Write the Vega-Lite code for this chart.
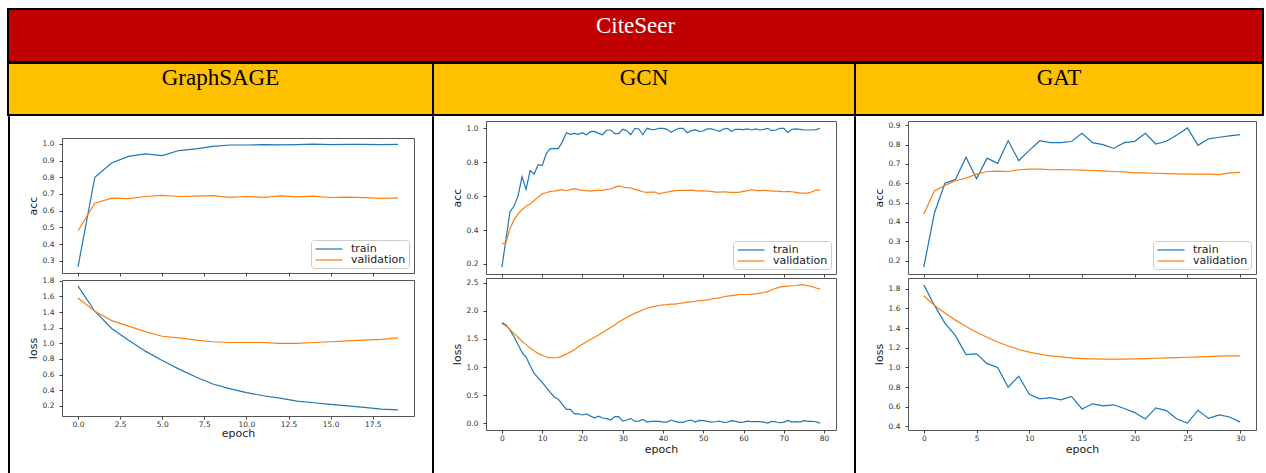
{
  "$schema": "https://vega.github.io/schema/vega-lite/v6.json",
  "background": "white",
  "padding": {"left": 7, "top": 8, "right": 0, "bottom": 0},
  "spacing": -4,
  "resolve": {"scale": {"color": "independent"}},
  "config": {
    "font": "DejaVu Sans",
    "view": {"stroke": "#555555", "strokeWidth": 1},
    "axis": {"domain": false, "grid": false, "ticks": true, "tickColor": "#444444", "tickSize": 3, "labelFont": "DejaVu Sans", "labelFontSize": 7.5, "labelColor": "#333333", "titleFont": "DejaVu Sans", "titleFontSize": 11, "titleFontWeight": "normal", "titleColor": "#222222"},
    "axisX": {"labelPadding": 1, "titlePadding": 2},
    "axisY": {"labelPadding": 5, "titlePadding": 4},
    "legend": {"orient": "bottom-right", "offset": 5, "symbolType": "M-2.7,0H2.7", "symbolSize": 100, "symbolStrokeWidth": 1.5, "labelFont": "DejaVu Sans", "labelFontSize": 11, "labelColor": "#222222", "padding": 3, "rowPadding": 0, "strokeColor": "#cccccc", "fillColor": "white", "cornerRadius": 3, "symbolOffset": 9, "labelOffset": 16},
    "line": {"strokeWidth": 1.2}
  },
  "datasets": {
    "sage_acc": [
      {"epoch":0,"train":0.264,"validation":0.48},{"epoch":1,"train":0.80,"validation":0.645},{"epoch":2,"train":0.885,"validation":0.675},{"epoch":3,"train":0.925,"validation":0.672},{"epoch":4,"train":0.94,"validation":0.685},{"epoch":5,"train":0.93,"validation":0.692},{"epoch":6,"train":0.96,"validation":0.685},{"epoch":7,"train":0.97,"validation":0.687},{"epoch":8,"train":0.985,"validation":0.69},{"epoch":9,"train":0.993,"validation":0.68},{"epoch":10,"train":0.993,"validation":0.685},{"epoch":11,"train":0.995,"validation":0.68},{"epoch":12,"train":0.994,"validation":0.689},{"epoch":13,"train":0.995,"validation":0.683},{"epoch":14,"train":0.998,"validation":0.687},{"epoch":15,"train":0.995,"validation":0.679},{"epoch":16,"train":0.997,"validation":0.681},{"epoch":17,"train":0.997,"validation":0.678},{"epoch":18,"train":0.995,"validation":0.674},{"epoch":19,"train":0.997,"validation":0.677}
    ],
    "sage_loss": [
      {"epoch":0,"train":1.73,"validation":1.58},{"epoch":1,"train":1.41,"validation":1.41},{"epoch":2,"train":1.19,"validation":1.29},{"epoch":3,"train":1.04,"validation":1.22},{"epoch":4,"train":0.90,"validation":1.15},{"epoch":5,"train":0.78,"validation":1.09},{"epoch":6,"train":0.67,"validation":1.07},{"epoch":7,"train":0.57,"validation":1.04},{"epoch":8,"train":0.48,"validation":1.02},{"epoch":9,"train":0.42,"validation":1.01},{"epoch":10,"train":0.37,"validation":1.01},{"epoch":11,"train":0.33,"validation":1.01},{"epoch":12,"train":0.30,"validation":1.0},{"epoch":13,"train":0.26,"validation":1.0},{"epoch":14,"train":0.24,"validation":1.01},{"epoch":15,"train":0.22,"validation":1.02},{"epoch":16,"train":0.20,"validation":1.03},{"epoch":17,"train":0.18,"validation":1.04},{"epoch":18,"train":0.16,"validation":1.05},{"epoch":19,"train":0.15,"validation":1.07}
    ],
    "gcn_acc": [
      {"epoch":0,"train":0.182,"validation":0.318},{"epoch":1,"train":0.343,"validation":0.326},{"epoch":2,"train":0.508,"validation":0.41},{"epoch":3,"train":0.54,"validation":0.46},{"epoch":4,"train":0.60,"validation":0.495},{"epoch":5,"train":0.715,"validation":0.52},{"epoch":6,"train":0.64,"validation":0.54},{"epoch":7,"train":0.75,"validation":0.553},{"epoch":8,"train":0.73,"validation":0.574},{"epoch":9,"train":0.785,"validation":0.594},
      {"epoch":10,"train":0.78,"validation":0.614},{"epoch":11,"train":0.85,"validation":0.62},{"epoch":12,"train":0.88,"validation":0.628},{"epoch":13,"train":0.88,"validation":0.63},{"epoch":14,"train":0.88,"validation":0.634},{"epoch":15,"train":0.92,"validation":0.638},{"epoch":16,"train":0.974,"validation":0.632},{"epoch":17,"train":0.964,"validation":0.638},{"epoch":18,"train":0.97,"validation":0.644},{"epoch":19,"train":0.964,"validation":0.638},
      {"epoch":20,"train":0.974,"validation":0.634},{"epoch":21,"train":0.962,"validation":0.632},{"epoch":22,"train":0.98,"validation":0.63},{"epoch":23,"train":0.982,"validation":0.632},{"epoch":24,"train":0.97,"validation":0.634},{"epoch":25,"train":0.962,"validation":0.634},{"epoch":26,"train":0.99,"validation":0.64},{"epoch":27,"train":0.99,"validation":0.642},{"epoch":28,"train":0.968,"validation":0.652},{"epoch":29,"train":0.968,"validation":0.66},
      {"epoch":30,"train":0.994,"validation":0.654},{"epoch":31,"train":0.986,"validation":0.65},{"epoch":32,"train":0.962,"validation":0.648},{"epoch":33,"train":1.0,"validation":0.64},{"epoch":34,"train":0.996,"validation":0.634},{"epoch":35,"train":0.962,"validation":0.626},{"epoch":36,"train":1.0,"validation":0.622},{"epoch":37,"train":0.994,"validation":0.624},{"epoch":38,"train":0.992,"validation":0.624},{"epoch":39,"train":1.0,"validation":0.614},
      {"epoch":40,"train":1.0,"validation":0.62},{"epoch":41,"train":0.994,"validation":0.624},{"epoch":42,"train":0.976,"validation":0.628},{"epoch":43,"train":0.99,"validation":0.632},{"epoch":44,"train":1.0,"validation":0.634},{"epoch":45,"train":1.0,"validation":0.634},{"epoch":46,"train":0.974,"validation":0.634},{"epoch":47,"train":0.986,"validation":0.636},{"epoch":48,"train":0.99,"validation":0.632},{"epoch":49,"train":0.982,"validation":0.63},
      {"epoch":50,"train":0.984,"validation":0.632},{"epoch":51,"train":0.996,"validation":0.63},{"epoch":52,"train":0.996,"validation":0.628},{"epoch":53,"train":0.99,"validation":0.624},{"epoch":54,"train":0.982,"validation":0.624},{"epoch":55,"train":0.996,"validation":0.626},{"epoch":56,"train":1.0,"validation":0.624},{"epoch":57,"train":0.982,"validation":0.622},{"epoch":58,"train":0.994,"validation":0.622},{"epoch":59,"train":0.994,"validation":0.624},
      {"epoch":60,"train":0.992,"validation":0.628},{"epoch":61,"train":0.996,"validation":0.632},{"epoch":62,"train":0.99,"validation":0.638},{"epoch":63,"train":0.996,"validation":0.634},{"epoch":64,"train":0.99,"validation":0.632},{"epoch":65,"train":0.994,"validation":0.634},{"epoch":66,"train":1.0,"validation":0.632},{"epoch":67,"train":0.986,"validation":0.63},{"epoch":68,"train":0.99,"validation":0.63},{"epoch":69,"train":1.0,"validation":0.628},
      {"epoch":70,"train":1.0,"validation":0.626},{"epoch":71,"train":0.976,"validation":0.628},{"epoch":72,"train":0.994,"validation":0.626},{"epoch":73,"train":0.996,"validation":0.622},{"epoch":74,"train":0.994,"validation":0.618},{"epoch":75,"train":0.99,"validation":0.618},{"epoch":76,"train":0.99,"validation":0.618},{"epoch":77,"train":0.99,"validation":0.626},{"epoch":78,"train":0.992,"validation":0.636},{"epoch":79,"train":1.0,"validation":0.636}
    ],
    "gcn_loss": [
      {"epoch":0,"train":1.79,"validation":1.77},{"epoch":1,"train":1.75,"validation":1.73},{"epoch":2,"train":1.66,"validation":1.67},{"epoch":3,"train":1.54,"validation":1.60},{"epoch":4,"train":1.40,"validation":1.53},{"epoch":5,"train":1.26,"validation":1.46},{"epoch":6,"train":1.18,"validation":1.40},{"epoch":7,"train":1.03,"validation":1.34},{"epoch":8,"train":0.89,"validation":1.29},{"epoch":9,"train":0.81,"validation":1.24},
      {"epoch":10,"train":0.73,"validation":1.21},{"epoch":11,"train":0.64,"validation":1.18},{"epoch":12,"train":0.55,"validation":1.17},{"epoch":13,"train":0.47,"validation":1.166},{"epoch":14,"train":0.43,"validation":1.17},{"epoch":15,"train":0.34,"validation":1.20},{"epoch":16,"train":0.25,"validation":1.23},{"epoch":17,"train":0.25,"validation":1.27},{"epoch":18,"train":0.17,"validation":1.31},{"epoch":19,"train":0.17,"validation":1.36},
      {"epoch":20,"train":0.15,"validation":1.405},{"epoch":21,"train":0.17,"validation":1.45},{"epoch":22,"train":0.13,"validation":1.49},{"epoch":23,"train":0.10,"validation":1.53},{"epoch":24,"train":0.13,"validation":1.57},{"epoch":25,"train":0.096,"validation":1.615},{"epoch":26,"train":0.084,"validation":1.66},{"epoch":27,"train":0.06,"validation":1.705},{"epoch":28,"train":0.12,"validation":1.75},{"epoch":29,"train":0.12,"validation":1.80},
      {"epoch":30,"train":0.042,"validation":1.84},{"epoch":31,"train":0.06,"validation":1.88},{"epoch":32,"train":0.09,"validation":1.92},{"epoch":33,"train":0.036,"validation":1.955},{"epoch":34,"train":0.042,"validation":1.985},{"epoch":35,"train":0.072,"validation":2.02},{"epoch":36,"train":0.024,"validation":2.045},{"epoch":37,"train":0.036,"validation":2.065},{"epoch":38,"train":0.036,"validation":2.08},{"epoch":39,"train":0.036,"validation":2.095},
      {"epoch":40,"train":0.024,"validation":2.105},{"epoch":41,"train":0.024,"validation":2.11},{"epoch":42,"train":0.06,"validation":2.12},{"epoch":43,"train":0.036,"validation":2.12},{"epoch":44,"train":0.018,"validation":2.13},{"epoch":45,"train":0.018,"validation":2.14},{"epoch":46,"train":0.048,"validation":2.155},{"epoch":47,"train":0.06,"validation":2.16},{"epoch":48,"train":0.024,"validation":2.17},{"epoch":49,"train":0.054,"validation":2.18},
      {"epoch":50,"train":0.048,"validation":2.185},{"epoch":51,"train":0.036,"validation":2.195},{"epoch":52,"train":0.024,"validation":2.21},{"epoch":53,"train":0.03,"validation":2.22},{"epoch":54,"train":0.042,"validation":2.23},{"epoch":55,"train":0.018,"validation":2.25},{"epoch":56,"train":0.024,"validation":2.26},{"epoch":57,"train":0.048,"validation":2.27},{"epoch":58,"train":0.036,"validation":2.28},{"epoch":59,"train":0.018,"validation":2.29},
      {"epoch":60,"train":0.024,"validation":2.29},{"epoch":61,"train":0.042,"validation":2.29},{"epoch":62,"train":0.03,"validation":2.295},{"epoch":63,"train":0.03,"validation":2.30},{"epoch":64,"train":0.03,"validation":2.315},{"epoch":65,"train":0.024,"validation":2.325},{"epoch":66,"train":0.006,"validation":2.34},{"epoch":67,"train":0.036,"validation":2.375},{"epoch":68,"train":0.03,"validation":2.40},{"epoch":69,"train":0.012,"validation":2.42},
      {"epoch":70,"train":0.024,"validation":2.435},{"epoch":71,"train":0.054,"validation":2.44},{"epoch":72,"train":0.024,"validation":2.445},{"epoch":73,"train":0.03,"validation":2.45},{"epoch":74,"train":0.024,"validation":2.46},{"epoch":75,"train":0.048,"validation":2.46},{"epoch":76,"train":0.036,"validation":2.445},{"epoch":77,"train":0.036,"validation":2.43},{"epoch":78,"train":0.03,"validation":2.405},{"epoch":79,"train":0.006,"validation":2.385}
    ],
    "gat_acc": [
      {"epoch":0,"train":0.167,"validation":0.441},{"epoch":1,"train":0.445,"validation":0.56},{"epoch":2,"train":0.60,"validation":0.589},{"epoch":3,"train":0.62,"validation":0.613},{"epoch":4,"train":0.735,"validation":0.627},{"epoch":5,"train":0.624,"validation":0.647},{"epoch":6,"train":0.73,"validation":0.661},{"epoch":7,"train":0.703,"validation":0.663},{"epoch":8,"train":0.82,"validation":0.661},{"epoch":9,"train":0.717,"validation":0.67},
      {"epoch":10,"train":0.77,"validation":0.673},{"epoch":11,"train":0.82,"validation":0.673},{"epoch":12,"train":0.81,"validation":0.67},{"epoch":13,"train":0.81,"validation":0.671},{"epoch":14,"train":0.816,"validation":0.67},{"epoch":15,"train":0.858,"validation":0.668},{"epoch":16,"train":0.81,"validation":0.666},{"epoch":17,"train":0.80,"validation":0.664},{"epoch":18,"train":0.78,"validation":0.661},{"epoch":19,"train":0.81,"validation":0.659},
      {"epoch":20,"train":0.817,"validation":0.654},{"epoch":21,"train":0.858,"validation":0.654},{"epoch":22,"train":0.803,"validation":0.652},{"epoch":23,"train":0.817,"validation":0.65},{"epoch":24,"train":0.85,"validation":0.649},{"epoch":25,"train":0.886,"validation":0.647},{"epoch":26,"train":0.796,"validation":0.647},{"epoch":27,"train":0.83,"validation":0.647},{"epoch":28,"train":0.838,"validation":0.645},{"epoch":29,"train":0.845,"validation":0.654},{"epoch":30,"train":0.852,"validation":0.656}
    ],
    "gat_loss": [
      {"epoch":0,"train":1.838,"validation":1.725},{"epoch":1,"train":1.632,"validation":1.632},{"epoch":2,"train":1.45,"validation":1.553},{"epoch":3,"train":1.323,"validation":1.48},{"epoch":4,"train":1.13,"validation":1.416},{"epoch":5,"train":1.138,"validation":1.357},{"epoch":6,"train":1.038,"validation":1.306},{"epoch":7,"train":1.0,"validation":1.258},{"epoch":8,"train":0.798,"validation":1.217},{"epoch":9,"train":0.911,"validation":1.182},
      {"epoch":10,"train":0.726,"validation":1.155},{"epoch":11,"train":0.681,"validation":1.134},{"epoch":12,"train":0.692,"validation":1.117},{"epoch":13,"train":0.671,"validation":1.107},{"epoch":14,"train":0.705,"validation":1.096},{"epoch":15,"train":0.578,"validation":1.09},{"epoch":16,"train":0.63,"validation":1.086},{"epoch":17,"train":0.609,"validation":1.083},{"epoch":18,"train":0.62,"validation":1.083},{"epoch":19,"train":0.582,"validation":1.083},
      {"epoch":20,"train":0.541,"validation":1.086},{"epoch":21,"train":0.475,"validation":1.09},{"epoch":22,"train":0.589,"validation":1.093},{"epoch":23,"train":0.561,"validation":1.096},{"epoch":24,"train":0.475,"validation":1.1},{"epoch":25,"train":0.434,"validation":1.103},{"epoch":26,"train":0.565,"validation":1.107},{"epoch":27,"train":0.482,"validation":1.11},{"epoch":28,"train":0.517,"validation":1.114},{"epoch":29,"train":0.496,"validation":1.117},{"epoch":30,"train":0.444,"validation":1.117}
    ]
  },
  "vconcat": [
    {
      "width": 1255, "height": 53,
      "data": {"values": [{"label": "CiteSeer"}]},
      "view": {"fill": "#c00000", "stroke": "black", "strokeWidth": 2},
      "mark": {"type": "text", "font": "Liberation Serif", "fontSize": 23, "color": "white", "baseline": "alphabetic", "dy": -3},
      "encoding": {"text": {"field": "label"}}
    },
    {
      "hconcat": [
        {"width": 425, "height": 52, "data": {"values": [{"label": "GraphSAGE"}]}, "view": {"fill": "#ffc000", "stroke": "black", "strokeWidth": 2}, "mark": {"type": "text", "font": "Liberation Serif", "fontSize": 23, "color": "black", "baseline": "alphabetic", "dy": -4}, "encoding": {"text": {"field": "label"}}},
        {"width": 422, "height": 52, "data": {"values": [{"label": "GCN"}]}, "view": {"fill": "#ffc000", "stroke": "black", "strokeWidth": 2}, "mark": {"type": "text", "font": "Liberation Serif", "fontSize": 23, "color": "black", "baseline": "alphabetic", "dy": -4}, "encoding": {"text": {"field": "label"}}},
        {"width": 408, "height": 52, "data": {"values": [{"label": "GAT"}]}, "view": {"fill": "#ffc000", "stroke": "black", "strokeWidth": 2}, "mark": {"type": "text", "font": "Liberation Serif", "fontSize": 23, "color": "black", "baseline": "alphabetic", "dy": -4}, "encoding": {"text": {"field": "label"}}}
      ],
      "spacing": 0,
      "bounds": "flush"
    },
    {
      "hconcat": [
        {"width": 1, "height": 357, "data": {"values": []}, "mark": {"type": "point"}, "view": {"fill": "black", "stroke": "black", "strokeWidth": 1}},
        {
          "vconcat": [
            {"width": 1, "height": 15, "data": {"values": []}, "mark": {"type": "point"}, "view": {"stroke": null}},
            {
              "width": 352, "height": 135,
              "data": {"name": "sage_acc"},
              "transform": [{"fold": ["train", "validation"], "as": ["split", "value"]}],
              "mark": {"type": "line"},
              "encoding": {
                "x": {"field": "epoch", "type": "quantitative", "scale": {"domain": [-0.95, 19.95], "nice": false, "zero": false}, "axis": {"values": [0, 2.5, 5, 7.5, 10, 12.5, 15, 17.5], "labels": false, "title": null}},
                "y": {"field": "value", "type": "quantitative", "scale": {"domain": [0.227, 1.035], "nice": false, "zero": false}, "axis": {"values": [0.3, 0.4, 0.5, 0.6, 0.7, 0.8, 0.9, 1.0], "format": ".1f", "title": "acc"}},
                "color": {"field": "split", "type": "nominal", "scale": {"domain": ["train", "validation"], "range": ["#1f77b4", "#ff7f0e"]}, "legend": {"title": null}}
              }
            },
            {
              "width": 352, "height": 136,
              "data": {"name": "sage_loss"},
              "transform": [{"fold": ["train", "validation"], "as": ["split", "value"]}],
              "mark": {"type": "line"},
              "encoding": {
                "x": {"field": "epoch", "type": "quantitative", "scale": {"domain": [-0.95, 19.95], "nice": false, "zero": false}, "axis": {"values": [0, 2.5, 5, 7.5, 10, 12.5, 15, 17.5], "format": ".1f", "title": "epoch", "titlePadding": 0}},
                "y": {"field": "value", "type": "quantitative", "scale": {"domain": [0.071, 1.809], "nice": false, "zero": false}, "axis": {"values": [0.2, 0.4, 0.6, 0.8, 1.0, 1.2, 1.4, 1.6, 1.8], "format": ".1f", "title": "loss"}},
                "color": {"field": "split", "type": "nominal", "scale": {"domain": ["train", "validation"], "range": ["#1f77b4", "#ff7f0e"]}, "legend": null}
              }
            }
          ],
          "spacing": 7,
          "bounds": "flush",
          "resolve": {"scale": {"color": "independent"}}
        },
        {"width": 1, "height": 357, "data": {"values": []}, "mark": {"type": "point"}, "view": {"fill": "black", "stroke": "black", "strokeWidth": 1}},
        {
          "vconcat": [
            {"width": 1, "height": 0.001, "data": {"values": []}, "mark": {"type": "point"}, "view": {"stroke": null}},
            {
              "width": 350, "height": 153,
              "data": {"name": "gcn_acc"},
              "transform": [{"fold": ["train", "validation"], "as": ["split", "value"]}],
              "mark": {"type": "line"},
              "encoding": {
                "x": {"field": "epoch", "type": "quantitative", "scale": {"domain": [-3.95, 82.95], "nice": false, "zero": false}, "axis": {"values": [0, 10, 20, 30, 40, 50, 60, 70, 80], "labels": false, "title": null}},
                "y": {"field": "value", "type": "quantitative", "scale": {"domain": [0.141, 1.043], "nice": false, "zero": false}, "axis": {"values": [0.2, 0.4, 0.6, 0.8, 1.0], "format": ".1f", "title": "acc"}},
                "color": {"field": "split", "type": "nominal", "scale": {"domain": ["train", "validation"], "range": ["#1f77b4", "#ff7f0e"]}, "legend": {"title": null}}
              }
            },
            {
              "width": 350, "height": 152,
              "data": {"name": "gcn_loss"},
              "transform": [{"fold": ["train", "validation"], "as": ["split", "value"]}],
              "mark": {"type": "line"},
              "encoding": {
                "x": {"field": "epoch", "type": "quantitative", "scale": {"domain": [-3.95, 82.95], "nice": false, "zero": false}, "axis": {"values": [0, 10, 20, 30, 40, 50, 60, 70, 80], "format": "d", "title": "epoch"}},
                "y": {"field": "value", "type": "quantitative", "scale": {"domain": [-0.117, 2.583], "nice": false, "zero": false}, "axis": {"values": [0, 0.5, 1.0, 1.5, 2.0, 2.5], "format": ".1f", "title": "loss"}},
                "color": {"field": "split", "type": "nominal", "scale": {"domain": ["train", "validation"], "range": ["#1f77b4", "#ff7f0e"]}, "legend": null}
              }
            }
          ],
          "spacing": 4,
          "bounds": "flush",
          "resolve": {"scale": {"color": "independent"}}
        },
        {"width": 1, "height": 357, "data": {"values": []}, "mark": {"type": "point"}, "view": {"fill": "black", "stroke": "black", "strokeWidth": 1}},
        {
          "vconcat": [
            {"width": 1, "height": 0.001, "data": {"values": []}, "mark": {"type": "point"}, "view": {"stroke": null}},
            {
              "width": 348, "height": 153,
              "data": {"name": "gat_acc"},
              "transform": [{"fold": ["train", "validation"], "as": ["split", "value"]}],
              "mark": {"type": "line"},
              "encoding": {
                "x": {"field": "epoch", "type": "quantitative", "scale": {"domain": [-1.5, 31.5], "nice": false, "zero": false}, "axis": {"values": [0, 5, 10, 15, 20, 25, 30], "labels": false, "title": null}},
                "y": {"field": "value", "type": "quantitative", "scale": {"domain": [0.131, 0.922], "nice": false, "zero": false}, "axis": {"values": [0.2, 0.3, 0.4, 0.5, 0.6, 0.7, 0.8, 0.9], "format": ".1f", "title": "acc"}},
                "color": {"field": "split", "type": "nominal", "scale": {"domain": ["train", "validation"], "range": ["#1f77b4", "#ff7f0e"]}, "legend": {"title": null}}
              }
            },
            {
              "width": 348, "height": 152,
              "data": {"name": "gat_loss"},
              "transform": [{"fold": ["train", "validation"], "as": ["split", "value"]}],
              "mark": {"type": "line"},
              "encoding": {
                "x": {"field": "epoch", "type": "quantitative", "scale": {"domain": [-1.5, 31.5], "nice": false, "zero": false}, "axis": {"values": [0, 5, 10, 15, 20, 25, 30], "format": "d", "title": "epoch"}},
                "y": {"field": "value", "type": "quantitative", "scale": {"domain": [0.364, 1.908], "nice": false, "zero": false}, "axis": {"values": [0.4, 0.6, 0.8, 1.0, 1.2, 1.4, 1.6, 1.8], "format": ".1f", "title": "loss"}},
                "color": {"field": "split", "type": "nominal", "scale": {"domain": ["train", "validation"], "range": ["#1f77b4", "#ff7f0e"]}, "legend": null}
              }
            }
          ],
          "spacing": 4,
          "bounds": "flush",
          "resolve": {"scale": {"color": "independent"}}
        }
      ],
      "spacing": 16,
      "bounds": "full",
      "resolve": {"scale": {"color": "independent"}}
    }
  ]
}
